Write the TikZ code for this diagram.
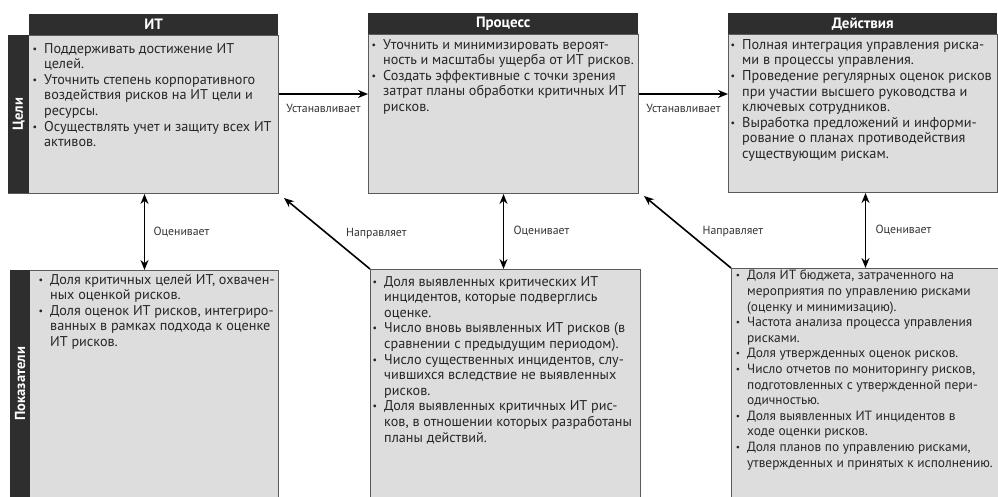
\documentclass[tikz,border=0pt]{standalone}
\usepackage{fontspec}
\setmainfont{PT Sans}
\usetikzlibrary{arrows.meta,calc}
\definecolor{hdr}{HTML}{2E2E2E}
\definecolor{bodyfill}{HTML}{DDDDDD}
\definecolor{edge}{HTML}{5A5A5A}
\tikzset{
 bodybox/.style={draw=edge, line width=1pt, fill=bodyfill, anchor=north west, inner sep=0pt},
 hdrbox/.style={fill=hdr, anchor=north west, inner sep=0pt, text=white, font=\bfseries\fontsize{15}{16}\selectfont},
 sidebar/.style={fill=hdr, anchor=north west, inner sep=0pt},
 sidelabel/.style={text=white, font=\bfseries\fontsize{14.5}{16}\selectfont, rotate=90},
 itemtext/.style={anchor=north west, inner sep=0pt, align=left, font=\fontsize{14.2}{15.6}\selectfont, text=black!85},
 conn/.style={line width=1.6pt, -{Stealth[length=10pt,width=8pt]}},
 conn2/.style={line width=1.6pt, {Stealth[length=10pt,width=8pt]}-{Stealth[length=10pt,width=8pt]}},
 lbl/.style={font=\fontsize{11.8}{13}\selectfont, text=black!80},
}
\newcommand{\bl}{\llap{\raisebox{1pt}{\scalebox{0.7}{•}}\hspace{7pt}}}
\begin{document}
\begin{tikzpicture}[x=1pt,y=-1pt]
\useasboundingbox (0,0) rectangle (998,497);
% top row
\node[bodybox, minimum width=270pt, minimum height=158pt] (b1) at (8,35) {};
\node[sidebar, minimum width=21pt, minimum height=158pt] (s1) at (8,35) {};
\node[sidelabel] (s1l) at (s1.center) {Цели};
\node[hdrbox, minimum width=249pt, minimum height=21pt] (h1) at (29,14) {ИТ};

\node[bodybox, minimum width=270pt, minimum height=159pt] (b2) at (368,34) {};
\node[hdrbox, minimum width=270pt, minimum height=21pt] (h2) at (368,13) {Процесс};

\node[bodybox, minimum width=269pt, minimum height=158pt] (b3) at (728,34) {};
\node[hdrbox, minimum width=269pt, minimum height=21pt] (h3) at (728,13) {Действия};

% bottom row
\node[bodybox, minimum width=268pt, minimum height=235pt] (b4) at (10,270) {};
\node[sidebar, minimum width=20pt, minimum height=227pt] (s4) at (10,270) {};
\node[sidelabel] (s4l) at (s4.center) {Показатели};

\node[bodybox, minimum width=270pt, minimum height=235pt] (b5) at (370,269) {};
\node[bodybox, minimum width=270pt, minimum height=235pt] (b6) at (731,268) {};

% texts
\node[itemtext] (t1) at (44,43) {\bl Поддерживать достижение ИТ\\целей.\\
\bl Уточнить степень корпоративного\\воздействия рисков на ИТ цели и\\ресурсы.\\
\bl Осуществлять учет и защиту всех ИТ\\активов.};

\node[itemtext] (t2) at (383,39) {\bl Уточнить и минимизировать вероят-\\ность и масштабы ущерба от ИТ рисков.\\
\bl Создать эффективные с точки зрения\\затрат планы обработки критичных ИТ\\рисков.};

\node[itemtext, font=\fontsize{14.3}{15.6}\selectfont] (t3) at (742,39) {\bl Полная интеграция управления риска-\\ми в процессы управления.\\
\bl Проведение регулярных оценок рисков\\при участии высшего руководства и\\ключевых сотрудников.\\
\bl Выработка предложений и информи-\\рование о планах противодействия\\существующим рискам.};

\node[itemtext] (t4) at (50,274) {\bl Доля критичных целей ИТ, охвачен-\\ных оценкой рисков.\\
\bl Доля оценок ИТ рисков, интегриро-\\ванных в рамках подхода к оценке\\ИТ рисков.};

\node[itemtext] (t5) at (384,276) {\bl Доля выявленных критических ИТ\\инцидентов, которые подверглись\\оценке.\\
\bl Число вновь выявленных ИТ рисков (в\\сравнении с предыдущим периодом).\\
\bl Число существенных инцидентов, слу-\\чившихся вследствие не выявленных\\рисков.\\
\bl Доля выявленных критичных ИТ рис-\\ков, в отношении которых разработаны\\планы действий.};

\node[itemtext, font=\fontsize{13.4}{15.6}\selectfont] (t6) at (747,270) {\bl Доля ИТ бюджета, затраченного на\\мероприятия по управлению рисками\\(оценку и минимизацию).\\
\bl Частота анализа процесса управления\\рисками.\\
\bl Доля утвержденных оценок рисков.\\
\bl Число отчетов по мониторингу рисков,\\подготовленных с утвержденной пери-\\одичностью.\\
\bl Доля выявленных ИТ инцидентов в\\ходе оценки рисков.\\
\bl Доля планов по управлению рисками,\\утвержденных и принятых к исполнению.};

% connectors
\draw[conn] ([yshift=-59pt]b1.north east) -- node[lbl, below=6pt] (l1) {Устанавливает} ([yshift=-60pt]b2.north west);
\draw[conn] ([yshift=-60pt]b2.north east) -- node[lbl, below=6pt] (l2) {Устанавливает} ([yshift=-60pt]b3.north west);

\draw[conn2] ([xshift=1pt]b1.south) -- node[lbl, right=5pt] (l3) {Оценивает} (b4.north);
\draw[conn2] (b2.south) -- node[lbl, right=6pt] (l4) {Оценивает} ([xshift=-2pt]b5.north);
\draw[conn2] ([xshift=2.5pt]b3.south) -- node[lbl, right=6pt] (l5) {Оценивает} ([xshift=-1pt]b6.north);

\draw[conn] (b5.north west) -- node[lbl, right=15pt] (l6) {Направляет} ([shift={(5pt,-4pt)}]b1.south east);
\draw[conn] (b6.north west) -- node[lbl, right=11pt] (l7) {Направляет} ([shift={(5pt,-2pt)}]b2.south east);
\end{tikzpicture}
\end{document}
